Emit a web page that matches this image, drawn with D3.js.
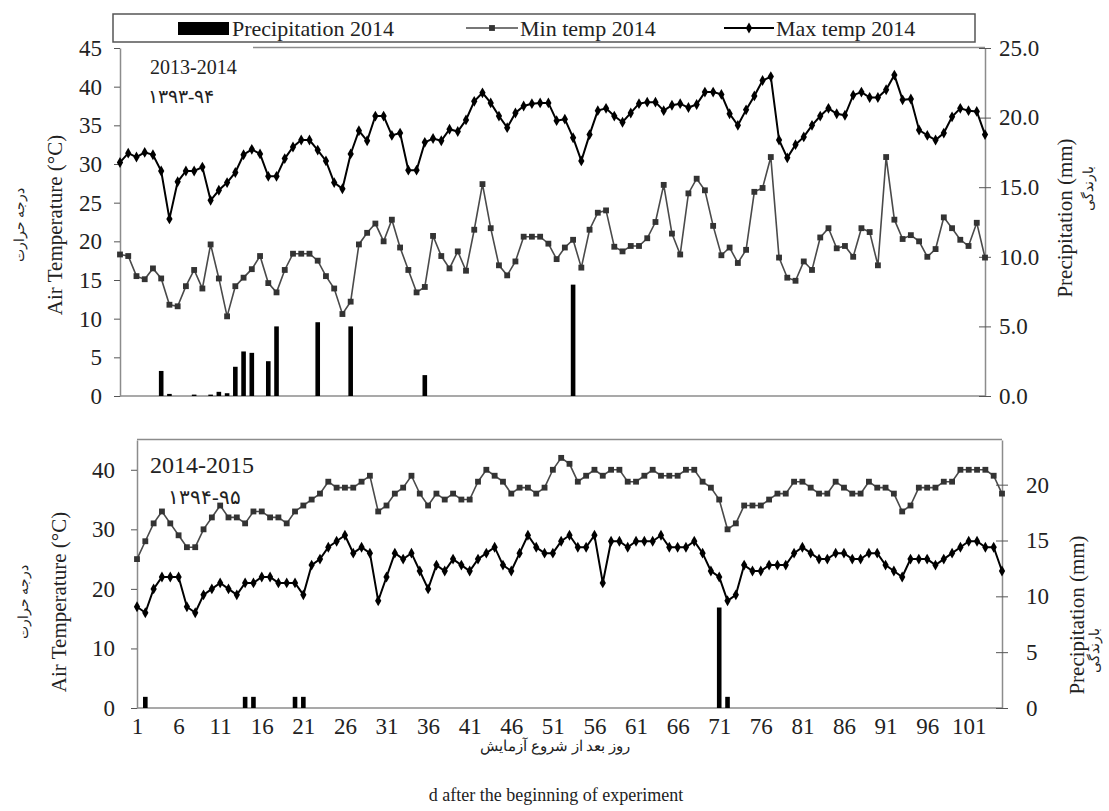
<!DOCTYPE html>
<html>
<head>
<meta charset="utf-8">
<script src="https://cdn.jsdelivr.net/npm/d3@7"></script>
<style>
  body { margin: 0; background: #fff; }
  text { font-family: "Liberation Serif", "Times New Roman", serif; fill: #222; }
</style>
</head>
<body>
<svg id="chart"></svg>
<script>
const width = 1109;
const height = 811;

// ---- 2013-2014 (106 days) ----
const maxTemp2014 = [
  30.2, 31.4, 30.9, 31.5, 31.2, 29.1, 22.9, 27.7, 29.1, 29.1,
  29.6, 25.3, 26.6, 27.6, 28.9, 31.2, 31.9, 31.3, 28.4, 28.4,
  30.7, 32.2, 33.1, 33.1, 31.8, 30.4, 27.6, 26.8, 31.3, 34.3,
  33.0, 36.2, 36.2, 33.7, 34.0, 29.2, 29.2, 32.8, 33.3, 33.0,
  34.5, 34.2, 35.7, 38.1, 39.2, 37.9, 36.2, 34.7, 36.6, 37.5,
  37.8, 37.9, 37.9, 35.6, 35.8, 33.4, 30.4, 33.8, 36.9, 37.2,
  36.2, 35.4, 36.6, 37.8, 38.0, 38.0, 36.9, 37.6, 37.8, 37.3,
  37.7, 39.3, 39.3, 39.0, 36.5, 35.0, 37.0, 38.8, 40.8, 41.3,
  33.1, 30.8, 32.5, 33.5, 35.0, 36.2, 37.2, 36.5, 36.3, 38.9,
  39.3, 38.6, 38.6, 39.6, 41.5, 38.3, 38.4, 34.4, 33.7, 33.1,
  34.0, 36.1, 37.2, 36.9, 36.8, 33.8
];
const minTemp2014 = [
  18.3, 18.1, 15.5, 15.1, 16.5, 15.2, 11.8, 11.6, 14.2, 16.3,
  13.9, 19.6, 15.2, 10.3, 14.2, 15.3, 16.4, 18.1, 14.6, 13.4,
  16.3, 18.4, 18.4, 18.4, 17.5, 15.5, 13.9, 10.6, 12.2, 19.6,
  21.1, 22.3, 20.0, 22.8, 19.2, 16.3, 13.4, 14.1, 20.7, 18.1,
  16.5, 18.7, 16.2, 21.5, 27.4, 21.7, 16.9, 15.6, 17.4, 20.6,
  20.6, 20.6, 19.7, 17.7, 19.2, 20.2, 16.6, 21.5, 23.7, 24.0,
  19.3, 18.7, 19.4, 19.4, 20.4, 22.5, 27.3, 21.0, 18.3, 26.2,
  28.1, 26.6, 22.0, 18.2, 19.2, 17.2, 18.9, 26.4, 26.9, 30.9,
  17.9, 15.3, 14.9, 17.4, 16.3, 20.5, 21.7, 19.1, 19.4, 18.0,
  21.7, 21.2, 16.9, 30.9, 22.8, 20.3, 20.8, 20.0, 18.0, 19.0,
  23.1, 21.7, 20.2, 19.4, 22.4, 17.9
];
const rainDays2014 = [6, 7, 10, 12, 13, 14, 15, 16, 17, 19, 20, 25, 29, 38, 56];
const rainMm2014 = [1.8, 0.15, 0.1, 0.1, 0.3, 0.2, 2.1, 3.2, 3.1, 2.5, 5.0, 5.3, 5.0, 1.5, 8.0];

// ---- 2014-2015 (105 days) ----
const minTemp2015 = [
  25, 28, 31, 33, 31, 29, 27, 27, 30, 32,
  34, 32, 32, 31, 33, 33, 32, 32, 31, 33,
  34, 35, 36, 38, 37, 37, 37, 38, 39, 33,
  34, 36, 37, 39, 36, 34, 36, 35, 36, 35,
  35, 38, 40, 39, 38, 36, 37, 37, 36, 37,
  40, 42, 41, 38, 39, 40, 39, 40, 40, 38,
  38, 39, 40, 39, 39, 39, 40, 40, 38, 37,
  35, 30, 31, 34, 34, 34, 35, 36, 36, 38,
  38, 37, 36, 36, 38, 37, 36, 36, 38, 37,
  37, 36, 33, 34, 37, 37, 37, 38, 38, 40,
  40, 40, 40, 39, 36
];
const maxTemp2015 = [
  17, 16, 20, 22, 22, 22, 17, 16, 19, 20,
  21, 20, 19, 21, 21, 22, 22, 21, 21, 21,
  19, 24, 25, 27, 28, 29, 26, 27, 26, 18,
  22, 26, 25, 26, 23, 20, 24, 23, 25, 24,
  23, 25, 26, 27, 24, 23, 26, 29, 27, 26,
  26, 28, 29, 27, 27, 29, 21, 28, 28, 27,
  28, 28, 28, 29, 27, 27, 27, 28, 26, 23,
  22, 18, 19, 24, 23, 23, 24, 24, 24, 26,
  27, 26, 25, 25, 26, 26, 25, 25, 26, 26,
  24, 23, 22, 25, 25, 25, 24, 25, 26, 27,
  28, 28, 27, 27, 23
];
const rainDays2015 = [2, 14, 15, 20, 21, 71, 72];
const rainMm2015 = [1.0, 1.0, 1.0, 1.0, 1.0, 9.0, 1.0];

const dayTicks = d3.range(1, 102, 5);
const legendLabels = ["Precipitation 2014", "Min temp 2014", "Max temp 2014"];

const axisColor = "#8c8c8c";
const serif = '"Liberation Serif", "Times New Roman", serif';
const persian = '"DejaVu Sans", sans-serif';

const svg = d3.select("#chart").attr("width", width).attr("height", height);

function drawPanel(p) {
  const n = p.squares.length;
  const x = d3.scaleLinear().domain([1, n]).range([p.left, p.right]);
  const yL = d3.scaleLinear().domain([0, 45]).range([p.bottom, p.top]);
  const yR = d3.scaleLinear().domain([0, p.rightMax]).range([p.bottom, p.top]);
  const g = svg.append("g");

  // frame
  g.append("line")
    .attr("x1", p.frameTopFrom).attr("x2", p.right)
    .attr("y1", p.top - 0.5).attr("y2", p.top - 0.5)
    .attr("stroke", axisColor).attr("stroke-width", 1.5);
  g.append("line")
    .attr("x1", p.left).attr("x2", p.right)
    .attr("y1", p.bottom).attr("y2", p.bottom)
    .attr("stroke", axisColor).attr("stroke-width", 1.5);

  // left axis
  const ax = g.append("g")
    .attr("transform", `translate(${p.left},0)`)
    .call(d3.axisLeft(yL).tickValues(p.leftTicks).tickSizeInner(6).tickSizeOuter(0).tickPadding(p.leftPad));
  ax.select(".domain").attr("stroke", axisColor).attr("stroke-width", 1.5);
  ax.selectAll(".tick line").attr("stroke", "#555");
  ax.selectAll(".tick text").attr("font-size", 23).attr("font-family", serif).attr("fill", "#222");

  // right axis, ticks crossing the line
  const ar = g.append("g")
    .attr("transform", `translate(${p.right},0)`)
    .call(d3.axisRight(yR).tickValues(p.rightTicks).tickFormat(d3.format(p.rightFmt))
      .tickSizeInner(6).tickSizeOuter(0).tickPadding(p.rightPad));
  ar.select(".domain").attr("stroke", axisColor).attr("stroke-width", 1.5);
  ar.selectAll(".tick line").attr("x1", -6).attr("stroke", "#555");
  ar.selectAll(".tick text").attr("font-size", 23).attr("font-family", serif).attr("fill", "#222");

  // precipitation bars
  g.selectAll("rect.rain")
    .data(p.rainDays.map((d, i) => ({ day: d, mm: p.rainMm[i] })))
    .enter()
    .append("rect")
    .attr("class", "rain")
    .attr("x", (d) => x(d.day) - 2.3)
    .attr("width", 4.6)
    .attr("y", (d) => yR(d.mm))
    .attr("height", (d) => p.bottom - yR(d.mm))
    .attr("fill", "#000");

  const line = d3.line().x((d, i) => x(i + 1)).y((d) => yL(d));

  // square-marker series
  g.append("path")
    .datum(p.squares)
    .attr("d", line)
    .attr("fill", "none")
    .attr("stroke", "#4a4a4a")
    .attr("stroke-width", 1.6);
  g.selectAll("path.sq")
    .data(p.squares)
    .enter()
    .append("path")
    .attr("class", "sq")
    .attr("d", d3.symbol(d3.symbolSquare, 34))
    .attr("transform", (d, i) => `translate(${x(i + 1)},${yL(d)})`)
    .attr("fill", "#333");

  // diamond-marker series
  g.append("path")
    .datum(p.diamonds)
    .attr("d", line)
    .attr("fill", "none")
    .attr("stroke", "#000")
    .attr("stroke-width", 2);
  g.selectAll("path.dm")
    .data(p.diamonds)
    .enter()
    .append("path")
    .attr("class", "dm")
    .attr("d", d3.symbol(d3.symbolDiamond, 34))
    .attr("transform", (d, i) => `translate(${x(i + 1)},${yL(d)})`)
    .attr("fill", "#000");

  // year labels
  g.append("text")
    .attr("x", 150).attr("y", p.yearY)
    .attr("font-size", p.yearSize)
    .text(p.year);
  g.append("text")
    .attr("x", p.persYearX).attr("y", p.yearY + p.persYearDy)
    .attr("font-size", p.persYearSize)
    .attr("font-family", persian)
    .text(p.persYear);

  // axis titles
  g.append("text")
    .attr("transform", `translate(${p.leftTitleX},${p.leftTitleY}) rotate(-90)`)
    .attr("text-anchor", "middle")
    .attr("font-size", 21)
    .text("Air Temperature (°C)");
  g.append("text")
    .attr("transform", `translate(${p.leftTitleX - 38},${p.leftTitleY}) rotate(-90)`)
    .attr("text-anchor", "middle")
    .attr("font-size", 14)
    .attr("font-family", persian)
    .text("درجه حرارت");
  g.append("text")
    .attr("transform", `translate(${p.rightTitleX},${p.rightTitleY}) rotate(-90)`)
    .attr("text-anchor", "middle")
    .attr("font-size", 21)
    .text("Precipitation  (mm)");
  g.append("text")
    .attr("transform", `translate(${p.persRightX},${p.persRightY}) rotate(-90)`)
    .attr("text-anchor", "middle")
    .attr("font-size", 14)
    .attr("font-family", persian)
    .text("بارندگی");

  return x;
}

drawPanel({
  squares: minTemp2014, diamonds: maxTemp2014,
  rainDays: rainDays2014, rainMm: rainMm2014,
  left: 120, right: 985, top: 48, bottom: 396, frameTopFrom: 253,
  rightMax: 25, leftTicks: d3.range(0, 46, 5), rightTicks: d3.range(0, 26, 5),
  rightFmt: ".1f", leftPad: 12, rightPad: 8,
  year: "2013-2014", yearY: 74, yearSize: 20,
  persYear: "۱۳۹۳-۹۴", persYearX: 148, persYearDy: 29, persYearSize: 19,
  leftTitleX: 62, leftTitleY: 225, rightTitleX: 1072, rightTitleY: 218,
  persRightX: 1093, persRightY: 188
});

const xb = drawPanel({
  squares: minTemp2015, diamonds: maxTemp2015,
  rainDays: rainDays2015, rainMm: rainMm2015,
  left: 137, right: 1002, top: 440, bottom: 708, frameTopFrom: 137,
  rightMax: 24, leftTicks: d3.range(0, 41, 10), rightTicks: d3.range(0, 21, 5),
  rightFmt: "d", leftPad: 16, rightPad: 18,
  year: "2014-2015", yearY: 473, yearSize: 24,
  persYear: "۱۳۹۴-۹۵", persYearX: 168, persYearDy: 31, persYearSize: 20,
  leftTitleX: 66, leftTitleY: 602, rightTitleX: 1084, rightTitleY: 615,
  persRightX: 1099, persRightY: 650
});

// x axis labels of the bottom panel
const xa = svg.append("g")
  .attr("transform", "translate(0,708)")
  .call(d3.axisBottom(xb).tickValues(dayTicks).tickFormat(d3.format("d")).tickSize(0).tickPadding(10));
xa.select(".domain").remove();
xa.selectAll(".tick text").attr("font-size", 23).attr("font-family", serif).attr("fill", "#222");

svg.append("text")
  .attr("x", 555).attr("y", 751)
  .attr("text-anchor", "middle")
  .attr("font-size", 15)
  .attr("font-family", persian)
  .text("روز بعد از شروع آزمایش");
svg.append("text")
  .attr("x", 556).attr("y", 801)
  .attr("text-anchor", "middle")
  .attr("font-size", 18)
  .text("d after the beginning  of experiment");

// legend
const lg = svg.append("g");
lg.append("rect")
  .attr("x", 113).attr("y", 14).attr("width", 862).attr("height", 28)
  .attr("fill", "#fff").attr("stroke", "#555").attr("stroke-width", 1.5);
lg.append("rect").attr("x", 178).attr("y", 22).attr("width", 51).attr("height", 13).attr("fill", "#000");
lg.append("line").attr("x1", 466).attr("x2", 518).attr("y1", 28).attr("y2", 28)
  .attr("stroke", "#4a4a4a").attr("stroke-width", 1.6);
lg.append("path").attr("d", d3.symbol(d3.symbolSquare, 34)).attr("transform", "translate(492,28)").attr("fill", "#333");
lg.append("line").attr("x1", 724).attr("x2", 774).attr("y1", 28).attr("y2", 28)
  .attr("stroke", "#000").attr("stroke-width", 2);
lg.append("path").attr("d", d3.symbol(d3.symbolDiamond, 34)).attr("transform", "translate(749,28)").attr("fill", "#000");
lg.selectAll("text.lbl")
  .data(legendLabels)
  .enter()
  .append("text")
  .attr("class", "lbl")
  .attr("x", (d, i) => [232, 520, 776][i])
  .attr("y", 36)
  .attr("font-size", 22)
  .text((d) => d);
</script>
</body>
</html>
